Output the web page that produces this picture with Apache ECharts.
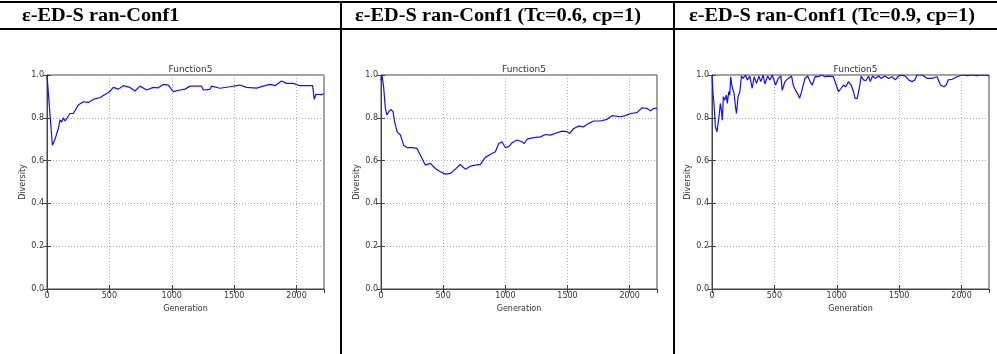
<!DOCTYPE html>
<html>
<head>
<meta charset="utf-8">
<script src="https://cdn.jsdelivr.net/npm/echarts@6/dist/echarts.min.js"></script>
<style>
  html, body { margin: 0; padding: 0; background: #fff; }
  #page { position: relative; width: 997px; height: 354px; overflow: hidden; background: #fff; }
  #chart { position: absolute; left: 0; top: 0; width: 997px; height: 354px; filter: blur(0.45px); }
  .rule { position: absolute; background: #000; }
  .head { position: absolute; top: 5px; font-family: "Liberation Serif", "Times New Roman", serif;
          font-weight: bold; font-size: 18.5px; color: #000; white-space: nowrap;
          transform-origin: 0 0; transform: scaleX(1.1); }
</style>
</head>
<body>
<div id="page">
  <div id="chart"></div>
  <div class="rule" style="left:0;top:1px;width:997px;height:2px"></div>
  <div class="rule" style="left:0;top:28px;width:997px;height:2px"></div>
  <div class="rule" style="left:340px;top:1px;width:2px;height:353px"></div>
  <div class="rule" style="left:673px;top:1px;width:2px;height:353px"></div>
  <div class="head" id="h0" style="left:22px"></div>
  <div class="head" id="h1" style="left:355px"></div>
  <div class="head" id="h2" style="left:689px"></div>
</div>
<script>
// Column headings and per-panel titles
const headings = ['ε-ED-S ran-Conf1', 'ε-ED-S ran-Conf1 (Tc=0.6, cp=1)', 'ε-ED-S ran-Conf1 (Tc=0.9, cp=1)'];
const panelTitle = 'Function5';
const xName = 'Generation';
const yName = 'Diversity';
const xTicks = [0, 500, 1000, 1500, 2000];
const yTicks = [0.0, 0.2, 0.4, 0.6, 0.8, 1.0];

// Run 1: population diversity per generation
const gen1 = [0, 43, 64, 91, 104, 118, 131, 145, 158, 184, 211, 251, 291, 331, 371, 425, 478, 505, 531, 572, 612, 665, 705, 745, 799, 852, 892, 932, 972, 1012, 1066, 1106, 1146, 1199, 1239, 1253, 1306, 1319, 1386, 1466, 1546, 1600, 1680, 1733, 1787, 1827, 1880, 1920, 1974, 2027, 2129, 2142, 2155, 2201, 2219];
const div1 = [1.0, 0.672, 0.70, 0.75, 0.79, 0.78, 0.80, 0.785, 0.79, 0.82, 0.82, 0.86, 0.875, 0.872, 0.886, 0.895, 0.914, 0.924, 0.942, 0.934, 0.95, 0.942, 0.925, 0.948, 0.93, 0.942, 0.94, 0.956, 0.953, 0.922, 0.93, 0.934, 0.948, 0.948, 0.948, 0.93, 0.933, 0.948, 0.938, 0.945, 0.953, 0.942, 0.939, 0.948, 0.956, 0.95, 0.972, 0.961, 0.961, 0.95, 0.95, 0.886, 0.91, 0.908, 0.914];

// Run 2: Tc=0.6, cp=1
const gen2 = [0, 8, 21, 35, 48, 62, 80, 97, 110, 129, 156, 182, 209, 249, 290, 303, 330, 357, 397, 437, 477, 518, 558, 598, 638, 678, 719, 759, 799, 839, 893, 920, 947, 973, 1000, 1027, 1054, 1094, 1134, 1153, 1175, 1228, 1282, 1322, 1362, 1416, 1456, 1496, 1518, 1550, 1590, 1630, 1671, 1711, 1764, 1818, 1858, 1925, 1966, 2006, 2059, 2100, 2140, 2167, 2194, 2220];
const div2 = [0.976, 1.0, 0.945, 0.844, 0.813, 0.828, 0.839, 0.828, 0.78, 0.735, 0.72, 0.672, 0.661, 0.661, 0.657, 0.641, 0.61, 0.579, 0.587, 0.563, 0.548, 0.537, 0.54, 0.56, 0.582, 0.56, 0.574, 0.579, 0.582, 0.615, 0.633, 0.641, 0.68, 0.688, 0.661, 0.665, 0.683, 0.696, 0.688, 0.68, 0.70, 0.707, 0.711, 0.722, 0.719, 0.73, 0.738, 0.735, 0.727, 0.75, 0.761, 0.758, 0.774, 0.785, 0.785, 0.793, 0.81, 0.805, 0.81, 0.82, 0.824, 0.847, 0.844, 0.833, 0.844, 0.844];

// Run 3: Tc=0.9, cp=1
const gen3 = [0, 8, 16, 27, 40, 48, 56, 67, 75, 83, 91, 102, 115, 123, 134, 142, 150, 161, 177, 188, 196, 209, 223, 236, 249, 268, 284, 303, 322, 338, 357, 375, 391, 410, 424, 445, 464, 483, 499, 509, 531, 552, 563, 584, 611, 638, 651, 670, 692, 702, 718, 745, 767, 786, 804, 826, 853, 879, 906, 933, 973, 1000, 1013, 1035, 1054, 1072, 1094, 1115, 1134, 1147, 1164, 1180, 1196, 1214, 1233, 1255, 1268, 1287, 1308, 1335, 1357, 1383, 1416, 1442, 1469, 1491, 1509, 1550, 1576, 1603, 1625, 1643, 1684, 1724, 1764, 1804, 1831, 1858, 1877, 1893, 1925, 1965, 2005, 2046, 2086, 2126, 2166, 2220];
const div3 = [1.0, 0.914, 0.867, 0.758, 0.735, 0.743, 0.805, 0.867, 0.836, 0.789, 0.899, 0.883, 0.906, 0.867, 0.922, 0.906, 0.992, 0.945, 0.914, 0.852, 0.82, 0.899, 0.922, 0.995, 0.984, 1.0, 0.977, 0.995, 0.938, 0.992, 0.961, 0.995, 0.969, 1.0, 0.958, 0.995, 0.977, 1.0, 0.992, 0.953, 0.984, 0.995, 0.928, 0.969, 0.984, 0.995, 0.953, 0.928, 0.906, 0.891, 0.922, 0.984, 0.995, 0.969, 0.953, 0.992, 0.992, 1.0, 0.992, 0.995, 0.992, 0.945, 0.922, 0.938, 0.953, 0.945, 0.969, 0.953, 0.922, 0.891, 0.891, 0.938, 0.995, 0.977, 0.973, 0.995, 0.969, 0.995, 0.984, 0.995, 0.984, 0.995, 0.984, 0.992, 0.977, 0.992, 1.0, 0.995, 0.977, 0.969, 0.977, 1.0, 1.0, 0.984, 0.984, 0.992, 0.953, 0.945, 0.953, 0.977, 0.98, 0.992, 1.0, 0.997, 1.0, 0.997, 1.0, 0.997];

headings.forEach((t, i) => { document.getElementById('h' + i).textContent = t; });

const runs = [[gen1, div1], [gen2, div2], [gen3, div3]];
const grids = [
  { left: 47, top: 75, width: 277, height: 214 },
  { left: 381, top: 75, width: 276, height: 214 },
  { left: 712, top: 75, width: 277, height: 214 }
];
const X_MAX = 2220;
const ink = '#333';
const labelFont = { fontFamily: 'DejaVu Sans', fontSize: 8, color: ink };

const option = {
  animation: false,
  backgroundColor: 'transparent',
  title: grids.map(g => ({
    text: panelTitle,
    left: g.left + g.width / 2,
    top: 60,
    textAlign: 'center',
    textStyle: { fontFamily: 'DejaVu Sans', fontSize: 9, fontWeight: 'normal', color: ink }
  })),
  grid: grids.map(g => Object.assign({ show: true, borderColor: '#444', borderWidth: 1, backgroundColor: 'transparent' }, g)),
  xAxis: [],
  yAxis: [],
  series: []
};

grids.forEach((g, i) => {
  option.xAxis.push({
    type: 'value', gridIndex: i, min: 0, max: X_MAX, interval: 500,
    name: xName, nameLocation: 'middle', nameGap: 13,
    nameTextStyle: labelFont,
    axisLine: { show: true, lineStyle: { color: '#444', width: 1 } },
    axisTick: { show: true, inside: true, length: 4, lineStyle: { color: '#444' } },
    axisLabel: Object.assign({ margin: 3, showMaxLabel: false, formatter: v => xTicks.includes(v) ? String(v) : '' }, labelFont),
    splitLine: { show: true, lineStyle: { color: '#aaa', type: [1, 2], width: 1 } }
  });
  option.xAxis.push({
    type: 'value', gridIndex: i, min: 0, max: X_MAX, interval: 500, position: 'top',
    axisLine: { show: false }, axisLabel: { show: false }, splitLine: { show: false },
    axisTick: { show: true, inside: true, length: 4, lineStyle: { color: '#444' } }
  });
  option.yAxis.push({
    type: 'value', gridIndex: i, min: 0, max: 1, interval: 0.2,
    name: yName, nameLocation: 'middle', nameGap: 15, nameRotate: 90,
    nameTextStyle: labelFont,
    axisLine: { show: true, lineStyle: { color: '#444', width: 1 } },
    axisTick: { show: true, inside: true, length: 4, lineStyle: { color: '#444' } },
    axisLabel: Object.assign({ margin: 3, formatter: v => v.toFixed(1) }, labelFont),
    splitLine: { show: true, lineStyle: { color: '#aaa', type: [1, 2], width: 1 } }
  });
  option.yAxis.push({
    type: 'value', gridIndex: i, min: 0, max: 1, interval: 0.2, position: 'right',
    axisLine: { show: false }, axisLabel: { show: false }, splitLine: { show: false },
    axisTick: { show: true, inside: true, length: 4, lineStyle: { color: '#444' } }
  });
  const [gx, gy] = runs[i];
  option.series.push({
    type: 'line', xAxisIndex: i * 2, yAxisIndex: i * 2,
    data: gx.map((x, k) => [x, gy[k]]),
    showSymbol: false, symbol: 'none',
    lineStyle: { color: '#1010ff', width: 1.2 },
    clip: true
  });
});

const chart = echarts.init(document.getElementById('chart'), null, { renderer: 'canvas' });
chart.setOption(option);
</script>
</body>
</html>
